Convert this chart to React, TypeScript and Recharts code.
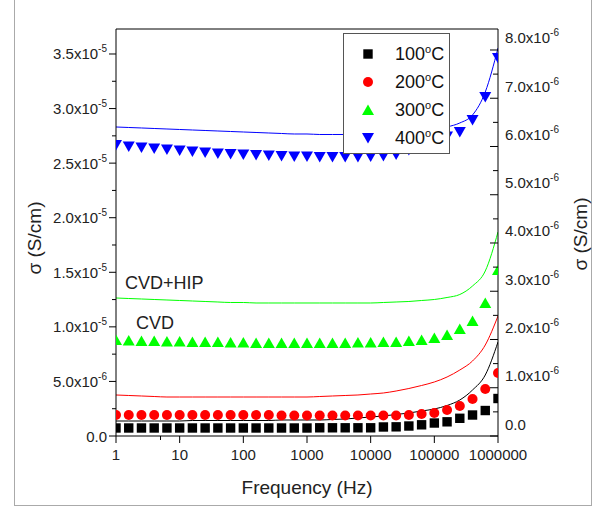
import { ComposedChart, Line, XAxis, YAxis, ReferenceLine, Legend } from 'recharts'

// frequency points (Hz), 5 per decade
const freq = [
  1, 1.585, 2.512, 3.981, 6.31, 10, 15.85, 25.12, 39.81, 63.1, 100, 158.5, 251.2, 398.1, 631, 1000,
  1585, 2512, 3981, 6310, 10000, 15849, 25119, 39811, 63096, 100000, 158489, 251189, 398107, 630957, 1000000,
]

// CVD measured points, right axis, x1e-6 S/cm
const cvd100 = [
  0.166, 0.166, 0.166, 0.166, 0.166, 0.166, 0.166, 0.166, 0.166, 0.166, 0.166, 0.166, 0.166, 0.166, 0.166, 0.166,
  0.17, 0.17, 0.17, 0.17, 0.17, 0.187, 0.19, 0.207, 0.232, 0.269, 0.294, 0.367, 0.435, 0.528, 0.777,
]
const cvd200 = [
  0.435, 0.435, 0.435, 0.435, 0.435, 0.435, 0.435, 0.435, 0.435, 0.435, 0.435, 0.435, 0.435, 0.425, 0.425, 0.425,
  0.425, 0.425, 0.425, 0.425, 0.425, 0.425, 0.425, 0.435, 0.456, 0.477, 0.539, 0.622, 0.767, 0.974, 1.306,
]
const cvd300 = [
  1.99, 1.979, 1.969, 1.969, 1.959, 1.959, 1.948, 1.948, 1.948, 1.938, 1.938, 1.927, 1.927, 1.927, 1.927, 1.927,
  1.927, 1.927, 1.927, 1.938, 1.938, 1.948, 1.948, 1.969, 1.99, 2.031, 2.093, 2.218, 2.383, 2.756, 3.44,
]
const cvd400 = [
  6.031, 6.0, 5.979, 5.959, 5.938, 5.917, 5.896, 5.876, 5.855, 5.845, 5.834, 5.824, 5.813, 5.803, 5.793, 5.793,
  5.782, 5.782, 5.782, 5.782, 5.793, 5.803, 5.834, 5.927, 6.031, 6.124, 6.207, 6.301, 6.549, 7.026, 7.834,
]

// CVD+HIP curves, left axis, x1e-6 S/cm
const hip100 = [
  1.374, 1.374, 1.374, 1.374, 1.374, 1.374, 1.42, 1.42, 1.42, 1.42, 1.42, 1.42, 1.42, 1.466, 1.466, 1.466,
  1.466, 1.512, 1.558, 1.649, 1.741, 1.833, 1.97, 2.107, 2.29, 2.474, 2.795, 3.298, 4.215, 5.589, 8.613,
]
const hip200 = [
  3.757, 3.711, 3.665, 3.619, 3.573, 3.573, 3.573, 3.573, 3.573, 3.573, 3.573, 3.573, 3.573, 3.573, 3.573, 3.573,
  3.619, 3.665, 3.711, 3.757, 3.848, 3.94, 4.123, 4.352, 4.627, 4.948, 5.406, 6.047, 6.872, 8.338, 10.995,
]
const hip300 = [
  12.644, 12.598, 12.553, 12.507, 12.461, 12.415, 12.369, 12.324, 12.278, 12.232, 12.232, 12.186, 12.186, 12.186,
  12.186, 12.186, 12.186, 12.186, 12.186, 12.186, 12.186, 12.232, 12.278, 12.324, 12.415, 12.507, 12.69, 12.965,
  13.744, 15.118, 18.692,
]
const hip400 = [
  28.312, 28.266, 28.221, 28.175, 28.129, 28.083, 28.037, 27.991, 27.946, 27.9, 27.854, 27.808, 27.762, 27.717,
  27.671, 27.671, 27.625, 27.625, 27.625, 27.625, 27.625, 27.671, 27.717, 27.762, 27.854, 28.037, 28.312, 28.679,
  29.412, 31.519, 35.55,
]

const xTicks = [1, 5, 10, 50, 100, 500, 1000, 5000, 10000, 50000, 100000, 500000, 1000000]
const leftTicks = [0, 2.5, 5, 7.5, 10, 12.5, 15, 17.5, 20, 22.5, 25, 27.5, 30, 32.5, 35]
const rightTicks = [0, 0.5, 1, 1.5, 2, 2.5, 3, 3.5, 4, 4.5, 5, 5.5, 6, 6.5, 7, 7.5, 8]
const LEFT_MAX = 37.29
const RIGHT_MAX = 8.435

const legendItems = [
  { label: '100', color: '#000000', shape: 'square' },
  { label: '200', color: '#ff0000', shape: 'circle' },
  { label: '300', color: '#00ff00', shape: 'up' },
  { label: '400', color: '#0000ff', shape: 'down' },
]

const rows = freq.map((f, i) => ({
  f,
  cvd100: cvd100[i],
  cvd200: cvd200[i],
  cvd300: cvd300[i],
  cvd400: cvd400[i],
  hip100: hip100[i],
  hip200: hip200[i],
  hip300: hip300[i],
  hip400: hip400[i],
}))

const FONT = '"Liberation Sans", Arial, sans-serif'
const TICK_FILL = '#222'

function Marker({ shape, color, cx, cy }: { shape: string; color: string; cx: number; cy: number }) {
  if (shape === 'square') return <rect x={cx - 4.7} y={cy - 4.7} width={9.4} height={9.4} fill={color} />
  if (shape === 'circle') return <circle cx={cx} cy={cy} r={5} fill={color} />
  if (shape === 'up') return <path d={`M${cx},${cy - 5.5} L${cx + 6},${cy + 5} L${cx - 6},${cy + 5} Z`} fill={color} />
  return <path d={`M${cx - 6},${cy - 5} L${cx + 6},${cy - 5} L${cx},${cy + 5.5} Z`} fill={color} />
}

const dotFor = (shape: string, color: string) => (p: any) =>
  p.cx == null || p.cy == null ? <g key={p.index} /> : (
    <g key={p.index}>
      <Marker shape={shape} color={color} cx={p.cx} cy={p.cy} />
    </g>
  )

function SupLabel({ x, y, main, sup, anchor }: { x: number; y: number; main: string; sup?: string; anchor: 'start' | 'end' }) {
  return (
    <text x={x} y={y} textAnchor={anchor} fontSize={15} fill={TICK_FILL} fontFamily={FONT}>
      <tspan>{main}</tspan>
      {sup && (
        <tspan dy={-7} fontSize={10}>
          {sup}
        </tspan>
      )}
    </text>
  )
}

function LeftTick(props: any) {
  const { x, y, payload } = props
  const v = payload.value as number
  const major = v % 5 === 0
  if (!major) return <line x1={x} x2={x - 4} y1={y} y2={y} stroke="#000" />
  let main = '0.0'
  let sup: string | undefined
  if (v > 0 && v < 10) {
    main = `${v.toFixed(1)}x10`
    sup = '-6'
  } else if (v >= 10) {
    main = `${(v / 10).toFixed(1)}x10`
    sup = '-5'
  }
  return (
    <g>
      <line x1={x} x2={x - 7} y1={y} y2={y} stroke="#000" />
      <SupLabel x={x - 9} y={y + 5.5} main={main} sup={sup} anchor="end" />
    </g>
  )
}

function RightTick(props: any) {
  const { x, y, payload } = props
  const v = payload.value as number
  const major = Number.isInteger(v)
  if (!major) return <line x1={x} x2={x - 5} y1={y} y2={y} stroke="#000" />
  // labels on this axis sit about half a step above their tick in the original
  return (
    <g>
      <line x1={x} x2={x - 8} y1={y} y2={y} stroke="#000" />
      <SupLabel x={x + 7} y={y - 6.5} main={v === 0 ? '0.0' : `${v.toFixed(1)}x10`} sup={v === 0 ? undefined : '-6'} anchor="start" />
    </g>
  )
}

function BottomTick(props: any) {
  const { x, y, payload } = props
  const v = payload.value as number
  const major = Number.isInteger(Math.log10(v))
  if (!major) return <line x1={x} x2={x} y1={y} y2={y + 4} stroke="#000" />
  return (
    <g>
      <line x1={x} x2={x} y1={y} y2={y + 7} stroke="#000" />
      <text x={x} y={y + 24} textAnchor="middle" fontSize={15} fill={TICK_FILL} fontFamily={FONT}>
        {String(v)}
      </text>
    </g>
  )
}

function LegendBox() {
  return (
    <div
      style={{
        width: 107,
        height: 121,
        boxSizing: 'border-box',
        border: '1px solid #555',
        background: '#fff',
        position: 'relative',
        fontFamily: FONT,
      }}
    >
      {legendItems.map((it, i) => (
        <div key={it.label} style={{ position: 'absolute', left: 0, top: 9 + i * 28, height: 22, width: 105 }}>
          <svg width={30} height={22} style={{ position: 'absolute', left: 9, top: 0 }}>
            <Marker shape={it.shape} color={it.color} cx={15} cy={11} />
          </svg>
          <span style={{ position: 'absolute', left: 51, top: 0, fontSize: 18, lineHeight: '22px', color: '#111', whiteSpace: 'nowrap' }}>
            {it.label}
            <span style={{ fontSize: 11, position: 'relative', top: -7 }}>o</span>C
          </span>
        </div>
      ))}
    </div>
  )
}

export default function App() {
  return (
    <div style={{ position: 'absolute', left: 0, top: 0, width: 598, height: 510, background: '#fff', fontFamily: FONT }}>
      <div
        style={{
          position: 'absolute',
          left: 14,
          top: 0,
          width: 576,
          height: 505,
          borderLeft: '1px solid #aaa',
          borderRight: '1px solid #aaa',
          borderBottom: '1px solid #aaa',
        }}
      />
      <ComposedChart width={598} height={510} data={rows} margin={{ top: 29, right: 10, bottom: 14, left: 36 }}>
        <XAxis
          dataKey="f"
          type="number"
          scale="log"
          domain={[1, 1000000]}
          allowDataOverflow
          ticks={xTicks}
          tick={<BottomTick />}
          tickLine={false}
          tickSize={0}
          tickMargin={0}
          height={60}
          axisLine={{ stroke: '#000' }}
        />
        <YAxis
          yAxisId="left"
          type="number"
          domain={[0, LEFT_MAX]}
          allowDataOverflow
          ticks={leftTicks}
          tick={<LeftTick />}
          tickLine={false}
          tickSize={0}
          tickMargin={0}
          width={80}
          axisLine={{ stroke: '#000' }}
        />
        <YAxis
          yAxisId="right"
          orientation="right"
          type="number"
          domain={[0, RIGHT_MAX]}
          allowDataOverflow
          ticks={rightTicks}
          tick={<RightTick />}
          tickLine={false}
          tickSize={0}
          tickMargin={0}
          width={90}
          axisLine={{ stroke: '#000' }}
        />
        <ReferenceLine yAxisId="left" y={LEFT_MAX} stroke="#000" ifOverflow="visible" />

        {/* CVD: markers only on the right axis */}
        <Line yAxisId="right" dataKey="cvd100" stroke="none" dot={dotFor('square', '#000000')} activeDot={false} isAnimationActive={false} />
        <Line yAxisId="right" dataKey="cvd200" stroke="none" dot={dotFor('circle', '#ff0000')} activeDot={false} isAnimationActive={false} />
        <Line yAxisId="right" dataKey="cvd300" stroke="none" dot={dotFor('up', '#00ff00')} activeDot={false} isAnimationActive={false} />
        <Line yAxisId="right" dataKey="cvd400" stroke="none" dot={dotFor('down', '#0000ff')} activeDot={false} isAnimationActive={false} />

        {/* CVD+HIP: thin curves on the left axis, drawn over the markers */}
        <Line yAxisId="left" type="monotone" dataKey="hip100" stroke="#000000" strokeWidth={1} dot={false} activeDot={false} isAnimationActive={false} />
        <Line yAxisId="left" type="monotone" dataKey="hip200" stroke="#ff0000" strokeWidth={1} dot={false} activeDot={false} isAnimationActive={false} />
        <Line yAxisId="left" type="monotone" dataKey="hip300" stroke="#00ff00" strokeWidth={1} dot={false} activeDot={false} isAnimationActive={false} />
        <Line yAxisId="left" type="monotone" dataKey="hip400" stroke="#0000ff" strokeWidth={1} dot={false} activeDot={false} isAnimationActive={false} />

        <Legend
          layout="horizontal"
          verticalAlign="middle"
          content={() => <LegendBox />}
          wrapperStyle={{ left: 343, top: 33, width: 107, height: 121 }}
        />
      </ComposedChart>

      <div style={{ position: 'absolute', left: 125, top: 272, fontSize: 18, lineHeight: '22px', color: '#222' }}>CVD+HIP</div>
      <div style={{ position: 'absolute', left: 136, top: 312, fontSize: 18, lineHeight: '22px', color: '#222' }}>CVD</div>

      <div style={{ position: 'absolute', left: 207, top: 476, width: 200, textAlign: 'center', fontSize: 19, lineHeight: '24px', color: '#222' }}>
        Frequency (Hz)
      </div>
      <div
        style={{
          position: 'absolute',
          left: 35 - 60,
          top: 238 - 12,
          width: 120,
          textAlign: 'center',
          fontSize: 19,
          lineHeight: '24px',
          color: '#222',
          transform: 'rotate(-90deg)',
        }}
      >
        σ (S/cm)
      </div>
      <div
        style={{
          position: 'absolute',
          left: 581 - 60,
          top: 234 - 12,
          width: 120,
          textAlign: 'center',
          fontSize: 19,
          lineHeight: '24px',
          color: '#222',
          transform: 'rotate(-90deg)',
        }}
      >
        σ (S/cm)
      </div>
    </div>
  )
}
